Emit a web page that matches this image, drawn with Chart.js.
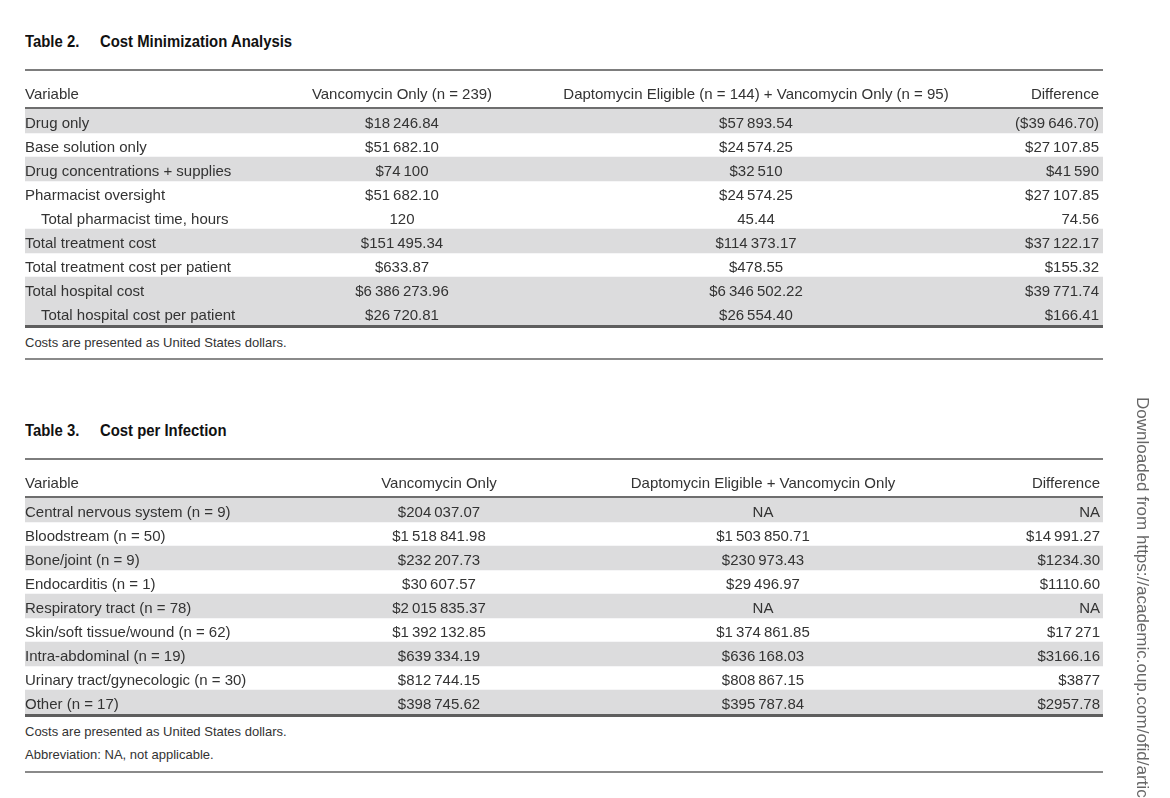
<!DOCTYPE html>
<html>
<head>
<meta charset="utf-8">
<script src="https://cdn.jsdelivr.net/npm/chart.js@4.4.1/dist/chart.umd.min.js"></script>
<style>
  html, body { margin: 0; padding: 0; background: #fff; }
  body { width: 1170px; height: 798px; position: relative; overflow: hidden; font-family: "Liberation Sans", Arial, sans-serif; color: #333; }
  .title { position: absolute; font-family: "Liberation Sans Narrow", "Liberation Sans", sans-serif; font-weight: bold; font-size: 16px; color: #111; line-height: 20px; white-space: nowrap; transform: scaleX(0.93); transform-origin: left center; }
  .note { position: absolute; left: 25px; font-size: 13px; line-height: 16px; color: #333; white-space: nowrap; }
  .rule { position: absolute; left: 25px; width: 1078px; height: 2px; background: #8a8a8a; }
  canvas { position: absolute; left: 0; }
  #wm { position: absolute; left: 1132px; top: 397px; writing-mode: vertical-rl; font-size: 17px; color: #666; white-space: nowrap; }
</style>
</head>
<body>
<div class="title" style="left:25px; top:32px;">Table 2.</div>
<div class="title" style="left:100px; top:32px;">Cost Minimization Analysis</div>
<canvas id="t2" width="1170" height="272" style="top:60px; width:1170px; height:272px;"></canvas>
<div class="note" style="top:335px;">Costs are presented as United States dollars.</div>
<div class="rule" style="top:358px;"></div>

<div class="title" style="left:25px; top:421px;">Table 3.</div>
<div class="title" style="left:100px; top:421px;">Cost per Infection</div>
<canvas id="t3" width="1170" height="272" style="top:449px; width:1170px; height:272px;"></canvas>
<div class="note" style="top:724px;">Costs are presented as United States dollars.</div>
<div class="note" style="top:747px;">Abbreviation: NA, not applicable.</div>
<div class="rule" style="top:771px;"></div>

<div id="wm">Downloaded from https://academic.oup.com/ofid/article</div>

<script>
// ---------- Table 2: Cost Minimization Analysis ----------
const t2Headers = ["Variable", "Vancomycin Only (n = 239)", "Daptomycin Eligible (n = 144) + Vancomycin Only (n = 95)", "Difference"];
const t2Rows = ["Drug only", "Base solution only", "Drug concentrations + supplies", "Pharmacist oversight", "Total pharmacist time, hours", "Total treatment cost", "Total treatment cost per patient", "Total hospital cost", "Total hospital cost per patient"];
const t2Indent = [0, 0, 0, 0, 1, 0, 0, 0, 1];
const t2Shaded = [1, 0, 1, 0, 0, 1, 0, 1, 1];
const t2Unit = ["$", "$", "$", "$", "", "$", "$", "$", "$"];
const t2Vanco = [18246.84, 51682.10, 74100, 51682.10, 120, 151495.34, 633.87, 6386273.96, 26720.81];
const t2Dapto = [57893.54, 24574.25, 32510, 24574.25, 45.44, 114373.17, 478.55, 6346502.22, 26554.40];
const t2Diff = [-39646.70, 27107.85, 41590, 27107.85, 74.56, 37122.17, 155.32, 39771.74, 166.41];

// ---------- Table 3: Cost per Infection ----------
const t3Headers = ["Variable", "Vancomycin Only", "Daptomycin Eligible + Vancomycin Only", "Difference"];
const t3Rows = ["Central nervous system (n = 9)", "Bloodstream (n = 50)", "Bone/joint (n = 9)", "Endocarditis (n = 1)", "Respiratory tract (n = 78)", "Skin/soft tissue/wound (n = 62)", "Intra-abdominal (n = 19)", "Urinary tract/gynecologic (n = 30)", "Other (n = 17)"];
const t3Indent = [0, 0, 0, 0, 0, 0, 0, 0, 0];
const t3Shaded = [1, 0, 1, 0, 1, 0, 1, 0, 1];
const t3Unit = ["$", "$", "$", "$", "$", "$", "$", "$", "$"];
const t3Vanco = [204037.07, 1518841.98, 232207.73, 30607.57, 2015835.37, 1392132.85, 639334.19, 812744.15, 398745.62];
const t3Dapto = [null, 1503850.71, 230973.43, 29496.97, null, 1374861.85, 636168.03, 808867.15, 395787.84];
const t3Diff = [null, 14991.27, 1234.30, 1110.60, null, 17271, 3166.16, 3877, 2957.78];

function fmt(v, unit) {
  if (v === null || v === undefined) return "NA";
  const neg = v < 0;
  const a = Math.abs(v);
  const s = Number.isInteger(a) ? String(a) : a.toFixed(2);
  let [ip, dp] = s.split(".");
  if (ip.length >= 5) ip = ip.replace(/\B(?=(\d{3})+(?!\d))/g, "\u2009");
  const out = unit + ip + (dp ? "." + dp : "");
  return neg ? "(" + out + ")" : out;
}

const FONT = '15px "Liberation Sans", Arial, sans-serif';
const TEXT = "#333";
const DY = 2.5;

function makeTablePlugin(cfg) {
  return {
    id: "tableText",
    afterDatasetsDraw(chart) {
      const { ctx, chartArea: a, scales } = chart;
      const xs = scales.x, ys = scales.y;
      const line = (yy, w, col) => {
        ctx.beginPath();
        ctx.strokeStyle = col;
        ctx.lineWidth = w;
        ctx.moveTo(a.left, yy);
        ctx.lineTo(a.right, yy);
        ctx.stroke();
      };
      ctx.save();
      line(a.top - 39, 2, "#7d7d7d");
      line(a.top - 1, 2, "#6e6e6e");
      line(a.bottom + 1.5, 3, "#5e5e5e");
      ctx.font = FONT;
      ctx.fillStyle = TEXT;
      ctx.textBaseline = "middle";
      // header
      const hy = a.top - 17 + DY;
      ctx.textAlign = "left";
      ctx.fillText(cfg.headers[0], a.left, hy);
      cfg.anchors.forEach((an, j) => {
        ctx.textAlign = an.align;
        ctx.fillText(cfg.headers[j + 1], xs.getPixelForValue(an.at), hy);
      });
      // rows
      chart.data.labels.forEach((lab, i) => {
        const yy = ys.getPixelForValue(i) + DY;
        ctx.textAlign = "left";
        ctx.fillText(lab, a.left + cfg.indent[i] * 16, yy);
        cfg.series.forEach((ser, j) => {
          const an = cfg.anchors[j];
          ctx.textAlign = an.align;
          ctx.fillText(fmt(ser[i], cfg.unit[i]), xs.getPixelForValue(an.at), yy);
        });
      });
      ctx.restore();
    }
  };
}

function makeTable(id, rows, shaded, cfg) {
  new Chart(document.getElementById(id), {
    type: "bar",
    data: {
      labels: rows,
      datasets: [{
        data: shaded.map(s => (s ? [0, 1078] : null)),
        backgroundColor: "#dcdcdd",
        borderWidth: 0,
        barPercentage: 1,
        categoryPercentage: 1
      }]
    },
    options: {
      indexAxis: "y",
      responsive: false,
      animation: false,
      events: [],
      layout: { padding: { left: 25, right: 67, top: 49, bottom: 7 } },
      scales: {
        x: { type: "linear", min: 0, max: 1078, display: false },
        y: { type: "category", display: false }
      },
      plugins: { legend: { display: false }, tooltip: { enabled: false } }
    },
    plugins: [makeTablePlugin(cfg)]
  });
}

makeTable("t2", t2Rows, t2Shaded, {
  headers: t2Headers, indent: t2Indent, unit: t2Unit,
  series: [t2Vanco, t2Dapto, t2Diff],
  anchors: [{ at: 377, align: "center" }, { at: 731, align: "center" }, { at: 1074, align: "right" }]
});
makeTable("t3", t3Rows, t3Shaded, {
  headers: t3Headers, indent: t3Indent, unit: t3Unit,
  series: [t3Vanco, t3Dapto, t3Diff],
  anchors: [{ at: 414, align: "center" }, { at: 738, align: "center" }, { at: 1075, align: "right" }]
});
</script>
</body>
</html>
